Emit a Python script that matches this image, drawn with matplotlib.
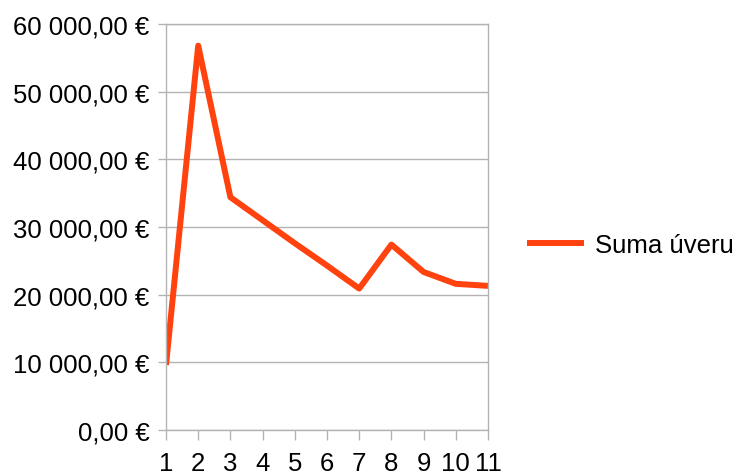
import matplotlib
matplotlib.use("Agg")
import matplotlib.pyplot as plt
from matplotlib.ticker import FuncFormatter

# Dados do gráfico
mesiace = [1, 2, 3, 4, 5, 6, 7, 8, 9, 10, 11]
suma_uveru = [9600, 56800, 34400, 31000, 27600, 24300, 20900, 27400, 23350, 21600, 21300]

plt.rcParams['font.family'] = ['Liberation Sans', 'DejaVu Sans']

fig = plt.figure(figsize=(7.38, 4.77), dpi=100)
ax = fig.add_axes([166 / 738, 1 - 431 / 477, (488 - 166) / 738, (431 - 25) / 477])

ax.plot(mesiace, suma_uveru, color='#ff420e', linewidth=4.3, solid_joinstyle='round',
        solid_capstyle='butt', label='Suma úveru')

# Eixos
ax.set_xlim(1, 11)
ax.set_ylim(0, 60000)
ax.set_xticks(mesiace)
ax.set_yticks(range(0, 60001, 10000))


def euro(v, pos):
    s = f"{v:,.2f}".replace(",", " ").replace(".", ",")
    return s + " €"


ax.yaxis.set_major_formatter(FuncFormatter(euro))
ax.grid(True, axis='y', color='#b3b3b3', linewidth=1)
ax.set_axisbelow(True)
for sp in ax.spines.values():
    sp.set_color('#b3b3b3')
    sp.set_linewidth(1)
ax.tick_params(axis='both', colors='#b3b3b3', labelcolor='black', labelsize=18.5,
               width=1)
ax.tick_params(axis='y', length=6, pad=6)
ax.tick_params(axis='x', length=7, pad=8)

ax.legend(loc='center left', bbox_to_anchor=(527 / 738, 1 - 246 / 477),
          bbox_transform=fig.transFigure, frameon=False, fontsize=18.5,
          handlelength=2.2, handletextpad=0.45, borderpad=0, borderaxespad=0)

fig.savefig('out.png', dpi=100)
